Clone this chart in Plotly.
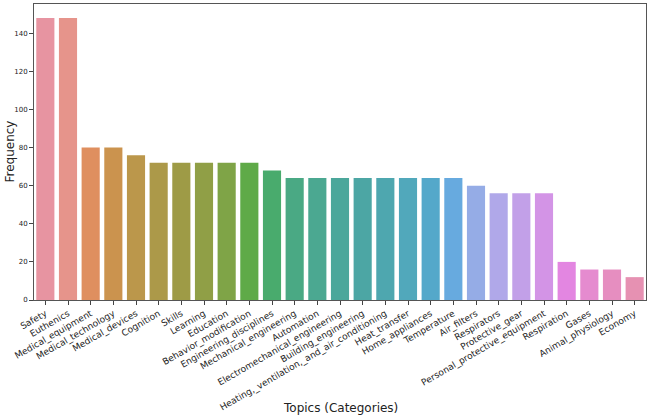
import colorsys
import math

import numpy as np
import plotly.graph_objects as go

topics = [
    "Safety", "Euthenics", "Medical_equipment", "Medical_technology",
    "Medical_devices", "Cognition", "Skills", "Learning", "Education",
    "Behavior_modification", "Engineering_disciplines",
    "Mechanical_engineering", "Automation", "Electromechanical_engineering",
    "Building_engineering", "Heating,_ventilation,_and_air_conditioning",
    "Heat_transfer", "Home_appliances", "Temperature", "Air_filters",
    "Respirators", "Protective_gear", "Personal_protective_equipment",
    "Respiration", "Gases", "Animal_physiology", "Economy",
]
frequency = [
    148, 148, 80, 80, 76, 72, 72, 72, 72, 72, 68,
    64, 64, 64, 64, 64, 64, 64, 64, 60,
    56, 56, 56, 20, 16, 16, 12,
]
y_ticks = [0, 20, 40, 60, 80, 100, 120, 140]


# husl -> rgb (same maths as the husl package seaborn uses)
M = [[3.2406, -1.5372, -0.4986],
     [-0.9689, 1.8758, 0.0415],
     [0.0557, -0.2040, 1.0570]]
REF_U, REF_V = 0.19784, 0.46834


def max_chroma(L, H):
    hrad = math.radians(H)
    sin_h, cos_h = math.sin(hrad), math.cos(hrad)
    sub1 = (L + 16) ** 3 / 1560896.0
    sub2 = sub1 if sub1 > 0.008856 else L / 903.3
    result = float("inf")
    for m1, m2, m3 in M:
        top = (0.99915 * m1 + 1.05122 * m2 + 1.14460 * m3) * sub2
        rbottom = 0.86330 * m3 - 0.17266 * m2
        lbottom = 0.12949 * m3 - 0.38848 * m1
        bottom = (rbottom * sin_h + lbottom * cos_h) * sub2
        for t in (0.0, 1.0):
            C = L * (top - 1.05122 * t) / (bottom + 0.17266 * sin_h * t)
            if 0.0 < C < result:
                result = C
    return result


def husl_to_rgb(h, s, l):
    C = max_chroma(l, h) / 100.0 * s
    hrad = math.radians(h)
    U, V = C * math.cos(hrad), C * math.sin(hrad)
    t = (l + 16.0) / 116.0
    Y = t ** 3 if t ** 3 > 0.008856 else (116 * t - 16) / 903.3
    var_u = U / (13.0 * l) + REF_U
    var_v = V / (13.0 * l) + REF_V
    X = -(9.0 * Y * var_u) / ((var_u - 4.0) * var_v - var_u * var_v)
    Z = (9.0 * Y - 15.0 * var_v * Y - var_v * X) / (3.0 * var_v)
    rgb = []
    for row in M:
        c = row[0] * X + row[1] * Y + row[2] * Z
        c = 12.92 * c if c <= 0.0031308 else 1.055 * c ** (1 / 2.4) - 0.055
        rgb.append(min(max(c, 0.0), 1.0))
    return rgb


def bar_colors(n, h=0.01, s=0.9, l=0.69, desat=0.72):
    hues = (np.linspace(0, 1, n + 1)[:-1] + h) % 1 * 359
    out = []
    for hue in hues:
        r, g, b = husl_to_rgb(hue, s * 99, l * 99)
        hh, ll, ss = colorsys.rgb_to_hls(r, g, b)
        r, g, b = colorsys.hls_to_rgb(hh, ll, ss * desat)
        out.append("rgb(%d,%d,%d)" % (round(r * 255), round(g * 255), round(b * 255)))
    return out


fig = go.Figure(
    go.Bar(
        x=topics,
        y=frequency,
        marker=dict(color=bar_colors(len(topics)), line=dict(width=0)),
    )
)

fig.update_xaxes(
    automargin=False,
    tickangle=-30,
    tickfont=dict(size=9, color="#222"),
    ticks="outside",
    ticklen=4,
    tickcolor="#444",
    showline=True,
    linecolor="#555",
    mirror=True,
    range=[-0.5, len(topics) - 0.5],
    showgrid=False,
)
fig.update_yaxes(
    automargin=False,
    tickvals=y_ticks,
    tickfont=dict(size=7, color="#222"),
    ticks="outside",
    ticklen=4,
    tickcolor="#444",
    showline=True,
    linecolor="#555",
    mirror=True,
    range=[0, 155.4],
    showgrid=False,
    zeroline=False,
)

# axis titles as annotations so they sit where the reference has them
fig.add_annotation(
    text="Topics (Categories)", xref="paper", yref="paper",
    x=0.5, y=-0.365, yanchor="middle", showarrow=False,
    font=dict(size=12, color="#222"),
)
fig.add_annotation(
    text="Frequency", xref="paper", yref="paper",
    x=-0.04, y=0.5, xanchor="center", textangle=-90, showarrow=False,
    font=dict(size=12, color="#222"),
)

fig.update_layout(
    width=650,
    height=420,
    margin=dict(l=34, r=4, t=4, b=120),
    bargap=0.2,
    plot_bgcolor="white",
    paper_bgcolor="white",
    font=dict(family="DejaVu Sans"),
    showlegend=False,
)
# drop the page's default body margin so the figure fills the window
fig.write_html(
    "out.html",
    config={"displayModeBar": False},
    post_script="document.body.style.margin = '0';",
)
